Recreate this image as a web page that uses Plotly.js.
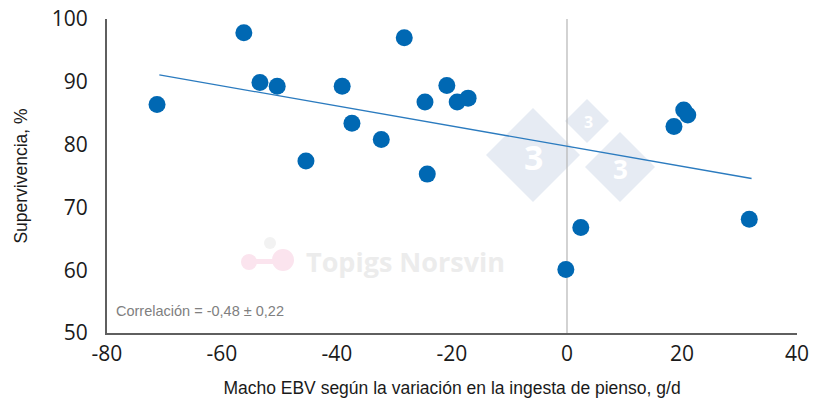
<!DOCTYPE html>
<html>
<head>
<meta charset="utf-8">
<script src="https://cdn.plot.ly/plotly-3.0.1.min.js"></script>
<style>html,body{margin:0;padding:0;background:#fff;}#chart{width:820px;height:404px;}</style>
</head>
<body>
<div id="chart"></div>
<script>
// Data
const ebvX = [-71.3, -56.2, -53.4, -50.4, -45.4, -39.1, -37.4, -32.3, -28.3, -24.7, -24.3, -20.9, -19.1, -17.2, -0.2, 2.4, 18.6, 20.3, 21.0, 31.7];
const survivalY = [86.4, 97.8, 89.9, 89.3, 77.4, 89.3, 83.4, 80.8, 97.0, 86.8, 75.3, 89.4, 86.8, 87.4, 60.1, 66.8, 82.9, 85.5, 84.7, 68.1];
const trendX = [-70.9, 32.1];
const trendY = [91.1, 74.6];
const xTicks = [-80, -60, -40, -20, 0, 20, 40];
const yTicks = [50, 60, 70, 80, 90, 100];
const correlationText = "Correlación = -0,48 ± 0,22";
const xTitle = "Macho EBV según la variación en la ingesta de pienso, g/d";
const yTitle = "Supervivencia, %";

// watermark helpers (paper coordinates)
const L = 107, R = 797, T = 19, B = 333;
const px = v => (v - L) / (R - L);
const py = v => (B - v) / (B - T);
function diamond(cx, cy, h, color) {
  return {type: 'path', xref: 'paper', yref: 'paper', layer: 'below',
    path: `M ${px(cx - h)},${py(cy)} L ${px(cx)},${py(cy - h)} L ${px(cx + h)},${py(cy)} L ${px(cx)},${py(cy + h)} Z`,
    fillcolor: color, line: {width: 0}};
}
function circle(cx, cy, r, color) {
  return {type: 'circle', xref: 'paper', yref: 'paper', layer: 'below',
    x0: px(cx - r), x1: px(cx + r), y0: py(cy + r), y1: py(cy - r),
    fillcolor: color, line: {width: 0}};
}
function label(cx, cy, text, size, color, xanchor, family) {
  return {xref: 'paper', yref: 'paper', x: px(cx), y: py(cy), xanchor: xanchor || 'center', yanchor: 'middle',
    text: text, showarrow: false, font: {family: family || '"Open Sans", sans-serif', size: size, color: color}};
}

const traces = [
  {x: trendX, y: trendY, mode: 'lines', type: 'scatter',
   line: {color: '#2b7bbf', width: 1.3}, hoverinfo: 'skip', showlegend: false},
  {x: ebvX, y: survivalY, mode: 'markers', type: 'scatter',
   marker: {color: '#0068b3', size: 17}, showlegend: false}
];

const tickFont = {family: '"Open Sans", Lato, sans-serif', size: 21, color: '#1a1a1a'};
const titleFont = {family: '"Liberation Sans", Arial, sans-serif', size: 17.5, color: '#1a1a1a'};

const layout = {
  width: 820, height: 404,
  margin: {l: L, r: 820 - R, t: T, b: 404 - B},
  paper_bgcolor: '#fff', plot_bgcolor: 'rgba(0,0,0,0)',
  showlegend: false,
  xaxis: {
    range: [-80, 40], tickvals: xTicks, ticktext: xTicks.map(String),
    showgrid: false, zeroline: false, showline: true, linecolor: '#5f5f5f', linewidth: 2,
    ticks: '', ticklabelstandoff: 1, tickfont: tickFont,
    title: {text: xTitle, font: titleFont, standoff: 16}
  },
  yaxis: {
    range: [50, 100], tickvals: yTicks, ticktext: yTicks.map(String),
    showgrid: false, zeroline: false, showline: true, linecolor: '#5f5f5f', linewidth: 2,
    ticks: '', ticklabelstandoff: 13, tickfont: tickFont,
    title: {text: yTitle, font: titleFont, standoff: 20}
  },
  shapes: [
    diamond(533, 155, 47, '#e6ebf3'),
    diamond(587, 121, 22, '#e6ebf3'),
    diamond(620, 167, 35, '#e6ebf3'),
    circle(249, 262, 8, '#fbe4ee'),
    circle(283, 260, 11, '#fbe4ee'),
    {type: 'rect', xref: 'paper', yref: 'paper', layer: 'below', x0: px(249), x1: px(283), y0: py(264), y1: py(259), fillcolor: '#fbe4ee', line: {width: 0}},
    circle(270, 243, 6, '#f2f2f2'),
    {type: 'line', xref: 'x', yref: 'paper', x0: 0, x1: 0, y0: 0, y1: 1, line: {color: '#b5b5b5', width: 1.2}, layer: 'below'}
  ],
  annotations: [
    label(533, 157, '<b>3</b>', 34, '#ffffff'),
    label(588, 122, '<b>3</b>', 16, '#ffffff'),
    label(620, 169, '<b>3</b>', 26, '#ffffff'),
    label(304, 261, '<b>Topigs Norsvin</b>', 27, '#ececec', 'left'),
    label(114, 311, correlationText, 14.5, '#808080', 'left', '"Liberation Sans", Arial, sans-serif')
  ]
};

Plotly.newPlot('chart', traces, layout, {displayModeBar: false, staticPlot: true});
</script>
</body>
</html>
